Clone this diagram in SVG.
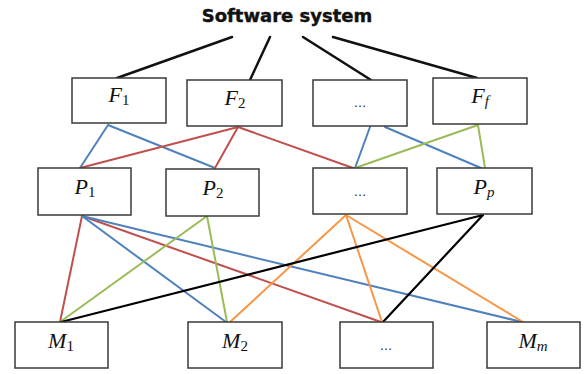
<svg xmlns="http://www.w3.org/2000/svg" width="587" height="374" viewBox="0 0 587 374">
<style>
.box{fill:#fff;stroke:#3a3a3a;stroke-width:1.5}
.lbl{font-family:"Liberation Serif","DejaVu Serif",serif;font-style:italic;font-size:22px;fill:#111;text-anchor:middle}
.sub{font-size:15px;font-style:normal}
.subi{font-size:15px}
.dots{font-family:"Liberation Sans",sans-serif;font-size:13px;fill:#222;text-anchor:middle}
.title{font-family:"DejaVu Sans","Liberation Sans",sans-serif;font-weight:900;font-size:18px;fill:#111;text-anchor:middle;stroke:#111;stroke-width:0.4}
.c{fill:none;stroke-width:2;stroke-linecap:round}
.k{stroke:#111;stroke-width:2.5}
.b{stroke:#4f81bd}
.r{stroke:#c0504d}
.g{stroke:#9bbb59}
.o{stroke:#f79646}
.bk{stroke:#000;stroke-width:2.2}
</style>
<rect width="587" height="374" fill="#fff"/>
<text class="title" x="287" y="22">Software system</text>
<g id="connectors">
<path class="c k" d="M232,37 L117,78 M270,37 L250,80 M303,37 L371,80 M333,37 L477,78"/>
<path class="c b" d="M108,125 L80,168 M108,125 L215,168 M370,127 L355,168 M385,127 L481,168"/>
<path class="c r" d="M238,127 L80,168 M238,127 L215,168 M238,127 L353,168"/>
<path class="c g" d="M478,125 L355,168 M478,125 L485,168"/>
<path class="c r" d="M82,216 L60,322 M82,216 L381,322"/>
<path class="c b" d="M82,216 L226,322 M82,216 L522,322"/>
<path class="c g" d="M207,216 L60,322 M207,216 L227,322"/>
<path class="c o" d="M346,215 L230,322 M346,215 L382,322 M346,215 L523,322"/>
<path class="c bk" d="M483,215 L61,322 M483,215 L383,322"/>
</g>
<g id="F1"><rect class="box" x="72" y="78" width="94" height="45"/><text class="lbl" x="119" y="102">F<tspan class="sub" dy="3">1</tspan></text></g>
<g id="F2"><rect class="box" x="187" y="80" width="95" height="46"/><text class="lbl" x="235" y="105">F<tspan class="sub" dy="3">2</tspan></text></g>
<g id="F3"><rect class="box" x="313" y="80" width="94" height="46"/><text class="dots" x="360" y="107">…</text></g>
<g id="Ff"><rect class="box" x="433" y="78" width="94" height="46"/><text class="lbl" x="480" y="103">F<tspan class="subi" dy="3">f</tspan></text></g>
<g id="P1"><rect class="box" x="38" y="168" width="93" height="47"/><text class="lbl" x="85" y="194">P<tspan class="sub" dy="3">1</tspan></text></g>
<g id="P2"><rect class="box" x="166" y="169" width="93" height="47"/><text class="lbl" x="213" y="195">P<tspan class="sub" dy="3">2</tspan></text></g>
<g id="P3"><rect class="box" x="313" y="168" width="94" height="46"/><text class="dots" x="360" y="196">…</text></g>
<g id="Pp"><rect class="box" x="437" y="168" width="95" height="46"/><text class="lbl" x="484" y="194">P<tspan class="subi" dy="3">p</tspan></text></g>
<g id="M1"><rect class="box" x="15" y="322" width="93" height="46"/><text class="lbl" x="61" y="348">M<tspan class="sub" dy="3">1</tspan></text></g>
<g id="M2"><rect class="box" x="188" y="322" width="94" height="46"/><text class="lbl" x="235" y="348">M<tspan class="sub" dy="3">2</tspan></text></g>
<g id="M3"><rect class="box" x="340" y="322" width="93" height="46"/><text class="dots" x="386" y="350">…</text></g>
<g id="Mm"><rect class="box" x="487" y="322" width="93" height="46"/><text class="lbl" x="533" y="348">M<tspan class="subi" dy="3">m</tspan></text></g>
</svg>
